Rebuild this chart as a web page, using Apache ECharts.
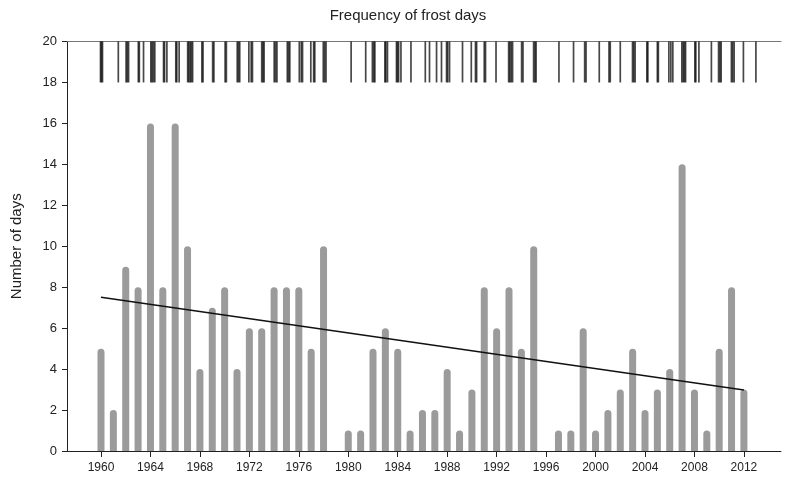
<!DOCTYPE html>
<html>
<head>
<meta charset="utf-8">
<script src="https://cdn.jsdelivr.net/npm/echarts@6/dist/echarts.min.js"></script>
<style>
  html, body { margin: 0; padding: 0; background: #fff; }
  #chart { width: 789px; height: 486px; }
</style>
</head>
<body>
<div id="chart"></div>
<script>
// ---- data ----
const years = [1960,1961,1962,1963,1964,1965,1966,1967,1968,1969,1970,1971,1972,1973,1974,1975,1976,1977,1978,1979,
  1980,1981,1982,1983,1984,1985,1986,1987,1988,1989,1990,1991,1992,1993,1994,1995,1996,1997,1998,1999,
  2000,2001,2002,2003,2004,2005,2006,2007,2008,2009,2010,2011,2012];
const frostDays = [5,2,9,8,16,8,16,10,4,7,8,4,6,6,8,8,8,5,10,0,
  1,1,5,6,5,1,2,2,4,1,3,8,6,8,5,10,0,1,1,6,
  1,2,3,5,2,3,4,14,3,1,5,8,3];
const trendYears = [1960, 2012];
const trendValues = [7.51, 2.98];
const xTickLabels = [1960,1964,1968,1972,1976,1980,1984,1988,1992,1996,2000,2004,2008,2012];
const yTickLabels = [0,2,4,6,8,10,12,14,16,18,20];
// dates of individual frost days (decimal years), drawn as a rug at the top
const rugDates = [
  1959.96,1960.04,1960.12, 1961.40, 1962.03,1962.13,1962.23, 1963.02,1963.10, 1963.44,
  1964.03,1964.13,1964.24,1964.35, 1965.06,1965.14,1965.33, 1966.05,1966.13,1966.32,
  1967.01,1967.10,1967.21,1967.31,1967.41, 1968.16,1968.25, 1969.03,1969.13, 1970.04,1970.14,
  1971.02,1971.12,1971.22, 1971.96,1972.15,1972.25, 1973.00,1973.10,1973.19,
  1974.01,1974.12,1974.23, 1975.07,1975.17,1975.27, 1976.04,1976.20,1976.30,
  1976.97,1977.20,1977.29, 1977.98,1978.09,1978.20, 1980.23, 1981.41,
  1981.95,1982.06,1982.15, 1982.96,1983.04,1983.17, 1983.90,1983.98,1984.07,1984.26,
  1985.07, 1986.23, 1986.57, 1987.14, 1987.54, 1987.95,1988.04,1988.19, 1989.24, 1989.95,
  1990.29,1990.38, 1991.00,1991.10, 1991.95,
  1992.97,1993.07,1993.18,1993.29, 1994.02,1994.13, 1994.99,1995.10,1995.19,
  1997.04, 1998.22, 1999.12,1999.23, 2000.30, 2001.09,2001.19, 2002.00,
  2002.99,2003.09,2003.20, 2004.15,2004.23, 2005.00,2005.08, 2005.93,2006.09,2006.25,
  2006.98,2007.09,2007.19,2007.28, 2008.03,2008.11,2008.36, 2009.37,
  2009.95,2010.06,2010.16, 2010.99,2011.09,2011.21, 2011.96, 2012.97
];
const rugRange = [18, 20];

// ---- chart ----
const FONT = 'Liberation Sans, Arial, sans-serif';
const chart = echarts.init(document.getElementById('chart'), null, { renderer: 'canvas' });

const barData = years.map((y, i) => [y, frostDays[i]]);
const trendData = trendYears.map((y, i) => [y, trendValues[i]]);

chart.setOption({
  animation: false,
  backgroundColor: '#ffffff',
  title: {
    text: 'Frequency of frost days',
    left: 403,
    top: 3,
    textAlign: 'center',
    textStyle: { fontFamily: FONT, fontSize: 15, fontWeight: 'normal', color: '#222' }
  },
  grid: { left: 67, right: 8, top: 41.5, bottom: 35, containLabel: false },
  xAxis: [{
    type: 'value',
    min: 1957.25,
    max: 2015,
    splitLine: { show: false },
    axisLine: { show: true, lineStyle: { color: '#222', width: 1 } },
    axisTick: { show: true, inside: false, length: 6, customValues: xTickLabels, lineStyle: { color: '#222' } },
    axisLabel: { customValues: xTickLabels, margin: 11, fontFamily: FONT, fontSize: 12, color: '#222',
      formatter: v => String(v) }
  }, {
    type: 'value',
    position: 'top',
    min: 1957.25,
    max: 2015,
    splitLine: { show: false },
    axisLine: { show: true, onZero: false, lineStyle: { color: '#777', width: 1 } },
    axisTick: { show: false },
    axisLabel: { show: false }
  }],
  yAxis: {
    type: 'value',
    min: 0,
    max: 20,
    interval: 2,
    name: 'Number of days',
    nameLocation: 'middle',
    nameGap: 43,
    nameTextStyle: { fontFamily: FONT, fontSize: 15, color: '#222' },
    splitLine: { show: false },
    axisLine: { show: true, lineStyle: { color: '#222', width: 1 } },
    axisTick: { show: true, length: 5, lineStyle: { color: '#222' } },
    axisLabel: { margin: 10, fontFamily: FONT, fontSize: 13, color: '#222',
      formatter: v => (yTickLabels.indexOf(v) >= 0 ? String(v) : '') }
  },
  series: [{
    type: 'bar',
    xAxisIndex: 0,
    data: barData,
    barWidth: 7,
    itemStyle: { color: '#9b9b9b', borderRadius: [3.5, 3.5, 0, 0] },
    z: 2
  }, {
    type: 'line',
    xAxisIndex: 0,
    data: trendData,
    showSymbol: false,
    symbol: 'none',
    lineStyle: { color: '#111', width: 1.3 },
    z: 3
  }, {
    type: 'custom',
    xAxisIndex: 0,
    data: rugDates.map(d => [d]),
    renderItem: function (params, api) {
      const p1 = api.coord([api.value(0), rugRange[0]]);
      const p2 = api.coord([api.value(0), rugRange[1]]);
      return {
        type: 'line',
        shape: { x1: p1[0], y1: p1[1], x2: p2[0], y2: p2[1] },
        style: { stroke: 'rgba(0,0,0,0.72)', lineWidth: 1.7 }
      };
    },
    z: 4
  }]
});
</script>
</body>
</html>
